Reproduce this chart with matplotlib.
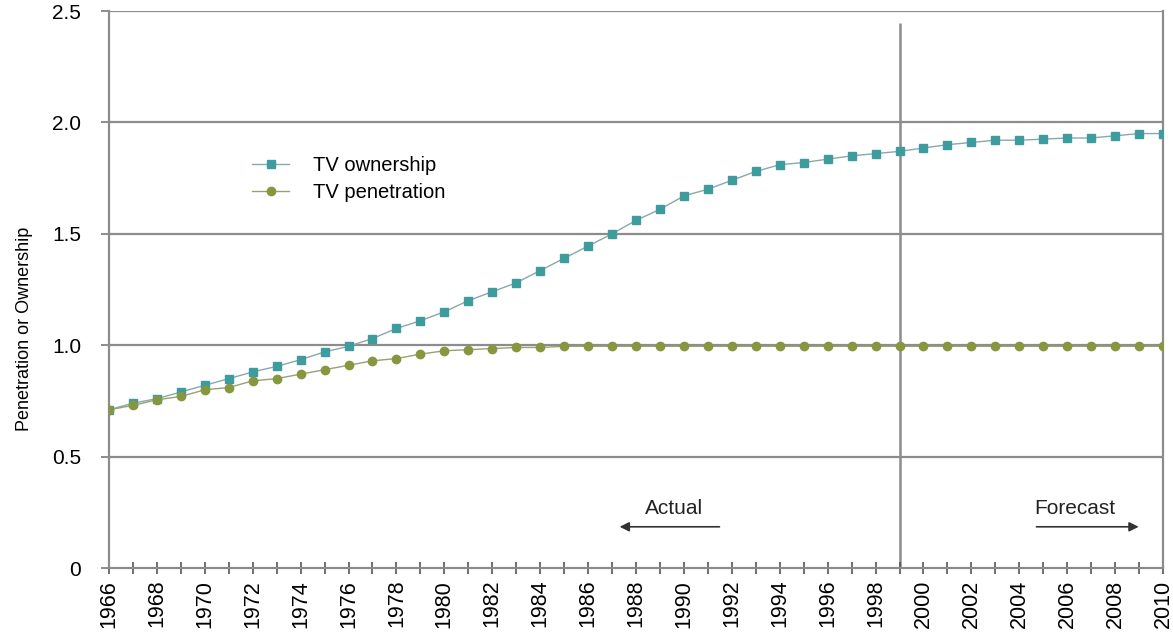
import matplotlib
matplotlib.use("Agg")
import matplotlib.pyplot as plt
import numpy as np

plt.rcParams['font.family'] = ['Liberation Sans', 'DejaVu Sans']

years = list(range(1966, 2011))

# TV ownership (sets per household)
ownership = [0.71, 0.74, 0.76, 0.79, 0.82, 0.85, 0.88, 0.905, 0.935, 0.97,
             0.995, 1.03, 1.075, 1.11, 1.15, 1.20, 1.24, 1.28, 1.335, 1.39,
             1.445, 1.50, 1.56, 1.61, 1.67, 1.70, 1.74, 1.78, 1.81, 1.82,
             1.835, 1.85, 1.86, 1.87, 1.885, 1.90, 1.91, 1.92, 1.92, 1.925,
             1.93, 1.93, 1.94, 1.95, 1.95]

# TV penetration (share of households)
penetration = [0.71, 0.73, 0.755, 0.77, 0.80, 0.81, 0.84, 0.85, 0.87, 0.89,
               0.91, 0.93, 0.94, 0.96, 0.975, 0.98, 0.985, 0.99, 0.99, 0.995,
               0.995, 0.995, 0.995, 0.995, 0.995, 0.995, 0.995, 0.995, 0.995, 0.995,
               0.995, 0.995, 0.995, 0.995, 0.995, 0.995, 0.995, 0.995, 0.995, 0.995,
               0.995, 0.995, 0.995, 0.995, 0.995]

split_year = 1999
yticks = [0, 0.5, 1.0, 1.5, 2.0, 2.5]
ytick_labels = ['0', '0.5', '1.0', '1.5', '2.0', '2.5']

grid_col = '#8c8c8c'
blue = '#3f9c9e'
green = '#86973f'

fig = plt.figure(figsize=(11.73, 6.36), dpi=100)
ax = fig.add_axes([0.0929, 0.1069, 0.8986, 0.8758])

ax.plot(years, ownership, color='#8aa8a8', lw=1.0, marker='s', ms=6,
        mfc=blue, mec=blue, label='TV ownership', zorder=3)
ax.plot(years, penetration, color='#9aa070', lw=1.0, marker='o', ms=6,
        mfc=green, mec=green, label='TV penetration', zorder=3)

ax.set_xlim(1966, 2010)
ax.set_ylim(0, 2.5)

for y in yticks[1:]:
    ax.axhline(y, color=grid_col, lw=1.6, zorder=1)
ax.vlines(split_year, 0, 2.445, color=grid_col, lw=1.8, zorder=1)

ax.spines['top'].set_visible(False)
for s in ['left', 'right', 'bottom']:
    ax.spines[s].set_color(grid_col)
    ax.spines[s].set_linewidth(1.6)

ax.set_yticks(yticks)
ax.set_yticklabels(ytick_labels)
ax.tick_params(axis='y', length=6, width=1.4, color=grid_col, labelsize=15, pad=14)

ax.set_xticks(years[::2])
ax.set_xticklabels([str(y) for y in years[::2]], rotation=90)
ax.set_xticks(years, minor=True)
ax.tick_params(axis='x', which='both', direction='inout', length=9, width=1.2,
               color='#555555', labelsize=15.5, pad=4)

ax.set_ylabel('Penetration or Ownership', fontsize=13)
ax.yaxis.set_label_coords(-0.072, 0.43)

# Actual / Forecast annotations
ax.annotate('', xy=(1987.2, 0.185), xytext=(1991.6, 0.185),
            arrowprops=dict(arrowstyle='-|>', color='#333333', lw=1.2, mutation_scale=14))
ax.text(1989.6, 0.265, 'Actual', ha='center', va='center', fontsize=15, color='#222222')
ax.annotate('', xy=(2009.1, 0.185), xytext=(2004.6, 0.185),
            arrowprops=dict(arrowstyle='-|>', color='#333333', lw=1.2, mutation_scale=14))
ax.text(2006.3, 0.265, 'Forecast', ha='center', va='center', fontsize=15, color='#222222')

ax.legend(loc='upper left', bbox_to_anchor=(0.1357, 0.74), frameon=False,
          fontsize=14.5, handlelength=1.85, handletextpad=1.2, labelspacing=0.42,
          borderpad=0, borderaxespad=0)

fig.savefig('out.png', dpi=100)
